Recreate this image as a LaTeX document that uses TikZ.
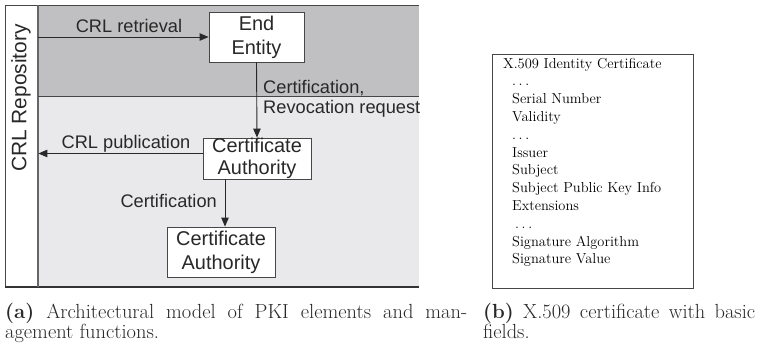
\documentclass[tikz,border=0pt]{standalone}
\usepackage{fontspec}
\newfontfamily\diagfont{Liberation Sans}
\usetikzlibrary{arrows.meta}
\definecolor{upperband}{RGB}{192,192,194}
\definecolor{lowerband}{RGB}{233,233,235}
\definecolor{inkgray}{RGB}{40,40,40}
\definecolor{framegray}{RGB}{70,70,70}
\newcommand{\spaceddots}{.\hspace{2.6bp}.\hspace{2.6bp}.}
\tikzset{
  entity/.style={draw=framegray, fill=white, line width=0.9bp, align=center,
    inner sep=0pt, text=inkgray, font=\diagfont\fontsize{20}{24}\selectfont},
  flowlabel/.style={inner sep=0pt, text=inkgray, font=\diagfont\fontsize{18.3}{20}\selectfont},
  flow/.style={draw=inkgray, line width=0.9bp, -{Triangle[length=9bp,width=7.5bp]}},
  field/.style={anchor=base west, inner sep=0pt, text=black, font=\fontsize{14.5}{17.8}\selectfont},
  captext/.style={anchor=base west, inner sep=0pt, text=inkgray, font=\fontsize{20.5}{21}\selectfont}
}
\begin{document}
\begin{tikzpicture}[x=1bp, y=-1bp]
\useasboundingbox (0,0) rectangle (758,345);

% (a) architectural model: shaded bands and repository column
\fill[upperband] (38,5) rectangle (419,96);
\fill[lowerband] (38,96) rectangle (419,287);
\node[fill=white, minimum width=33bp, minimum height=282bp, inner sep=0pt, anchor=north west]
  (repo) at (5,5) {};
\node[rotate=90, text=inkgray, font=\diagfont\fontsize{21}{24}\selectfont, inner sep=0pt]
  (repolabel) at (21,98) {CRL Repository};
\draw[framegray, line width=1bp] (419,5) -- (5,5) -- (5,287);
\draw[black!80, line width=1.4bp] (5,287) -- (419,287);
\draw[gray!80!black, line width=1.8bp] (38,5) -- (38,287);
\draw[framegray, line width=0.9bp] (38,96) -- (419,96);

% entities
\node[entity, minimum width=95bp, minimum height=50bp] (ee) at (256.5,37) {End\\Entity};
\node[entity, minimum width=108bp, minimum height=41bp, font=\diagfont\fontsize{20}{22}\selectfont]
  (ca1) at (257,158.5) {Certificate\\Authority};
\node[entity, minimum width=108bp, minimum height=50bp] (ca2) at (221,252) {Certificate\\Authority};

% management flows
\draw[flow] (repo.east |- ee.west) -- (ee.west);
\draw[flow] (ee.south) -- (ca1.north);
\draw[flow] ([yshift=5bp]ca1.west) -- ([yshift=5bp]ca1.west -| repo.east);
\draw[flow] ([xshift=4bp]ca2.north |- ca1.south) -- ([xshift=4bp]ca2.north);

\node[flowlabel, anchor=base] (lretr) at (129,32) {CRL retrieval};
\node[flowlabel, anchor=base west] (lcert1) at (263,93) {Certification,};
\node[flowlabel, anchor=base west] (lrevoc) at (263,113) {Revocation request};
\node[flowlabel, anchor=base] (lpub) at (126,148) {CRL publication};
\node[flowlabel, anchor=base east] (lcert2) at (217,207) {Certification};

% (b) certificate fields
\draw[framegray, line width=0.9bp] (492,54) rectangle (693,288);
\node[field] (f0) at (503,68.0) {X.509 Identity Certificate};
\node[field] (f1) at (512,85.8) {\spaceddots};
\node[field] (f2) at (512,103.6) {Serial Number};
\node[field] (f3) at (512,121.4) {Validity};
\node[field] (f4) at (512,139.2) {\spaceddots};
\node[field] (f5) at (512,157.0) {Issuer};
\node[field] (f6) at (512,174.8) {Subject};
\node[field] (f7) at (512,192.6) {Subject Public Key Info};
\node[field] (f8) at (512,210.4) {Extensions};
\node[field] (f9) at (515,228.2) {\spaceddots};
\node[field] (f10) at (512,246.0) {Signature Algorithm};
\node[field] (f11) at (512,263.8) {Signature Value};

% captions
\node[captext] (capa1) at (5,318) {\makebox[462bp][s]{\textbf{(a)} Architectural model of PKI elements and man-}};
\node[captext] (capa2) at (5,338.5) {agement functions.};
\node[captext] (capb1) at (483,318) {\makebox[272bp][s]{\textbf{(b)} X.509 certificate with basic}};
\node[captext] (capb2) at (483,338.5) {fields.};
\end{tikzpicture}
\end{document}
